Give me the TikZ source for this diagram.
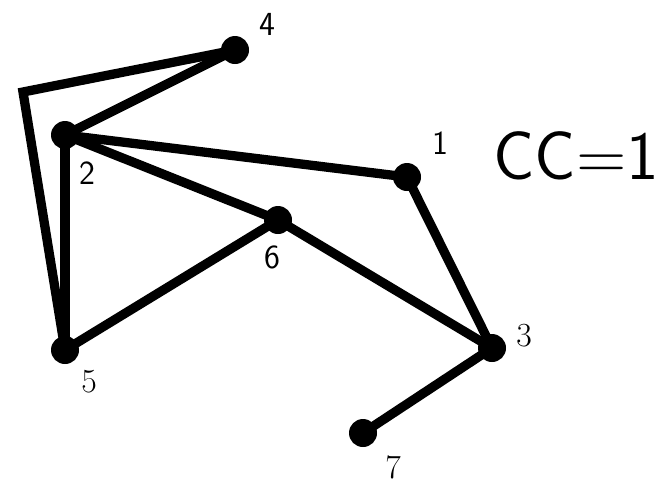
\documentclass[tikz,border=0pt]{standalone}
\usepackage{tikz}
\usetikzlibrary{positioning}

\begin{document}
\begin{tikzpicture}[x=0.025cm, y=-0.025cm,
    vertex/.style = {circle, fill=black, inner sep=0pt, minimum size=28*0.025cm},
    edge/.style = {line width=6.6pt, line join=miter},
    lbl/.style = {font=\fontsize{24}{27}\sffamily, inner sep=0pt},
    lblrm/.style = {font=\fontsize{24}{27}\rmfamily, inner sep=0pt}
    ]
    \useasboundingbox (0,0) rectangle (663,489);
    \node[vertex] (1) at (407,177) {};
    \node[vertex] (2) at (65,135) {};
    \node[vertex] (3) at (492,348) {};
    \node[vertex] (4) at (235,50) {};
    \node[vertex] (5) at (65,350) {};
    \node[vertex] (6) at (278,220) {};
    \node[vertex] (7) at (363,433) {};
    \coordinate (bend) at (23,92);
    \node[lbl] (1a) at (440,143) {1};
    \node[lbl] (2a) at (87,173) {2};
    \node[lblrm] (3a) at (524,336) {3};
    \node[lbl] (4a) at (267,24) {4};
    \node[lblrm] (5a) at (89,382) {5};
    \node[lbl] (6a) at (272,257) {6};
    \node[lblrm] (7a) at (393,467) {7};
    \node[font=\fontsize{49}{54}\sffamily, inner sep=0pt] (cc) at (576,156) {CC=1};
    \draw[edge] (4.center) -- (bend) -- (5.center);
    \draw[edge] (2.center) -- (4.center);
    \draw[edge] (2.center) -- (5.center);
    \draw[edge] (2.center) -- (1.center);
    \draw[edge] (2.center) -- (6.center);
    \draw[edge] (6.center) -- (5.center);
    \draw[edge] (6.center) -- (3.center);
    \draw[edge] (1.center) -- (3.center);
    \draw[edge] (3.center) -- (7.center);
\end{tikzpicture}
\end{document}
